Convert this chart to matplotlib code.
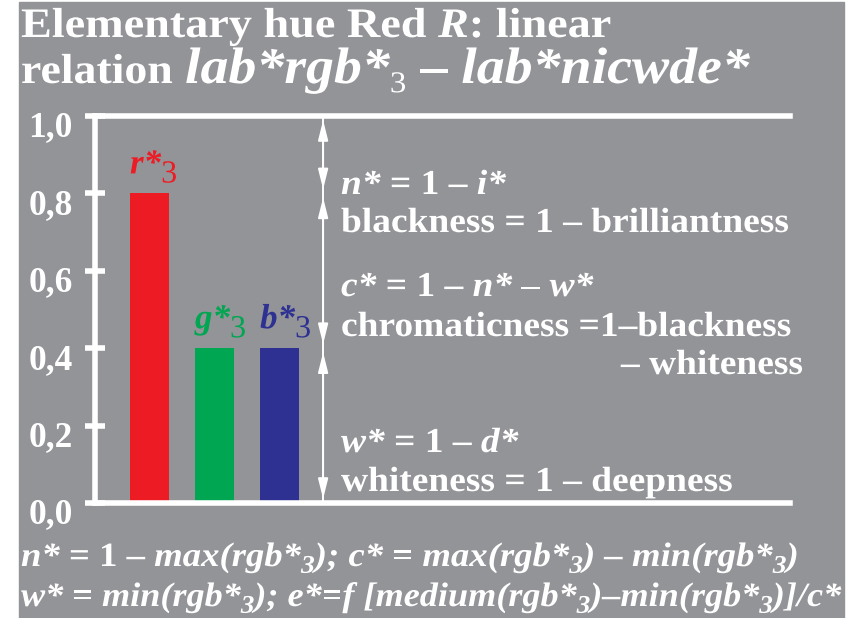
import matplotlib
matplotlib.use("Agg")
import matplotlib.pyplot as plt
from matplotlib.font_manager import FontProperties, findfont, get_font
from matplotlib.ft2font import LoadFlags
from matplotlib.textpath import TextPath
from matplotlib.patches import PathPatch, Rectangle
from matplotlib.transforms import Affine2D, ScaledTranslation

W, H = 863, 618
GREY = "#939498"

# bar data: rgb*3 of elementary hue red
names = ["r*", "g*", "b*"]
values = [0.8, 0.4, 0.4]
colors = ["#ed1c24", "#00a651", "#2e3192"]
ticks = [0.0, 0.2, 0.4, 0.6, 0.8, 1.0]
tick_labels = ["0,0", "0,2", "0,4", "0,6", "0,8", "1,0"]
# n*, c*, w* ranges on the double arrow
bounds = [1.0, 0.8, 0.4, 0.0]

SERIF = ["Liberation Serif", "TeX Gyre Termes", "Nimbus Roman", "Times New Roman",
         "STIXGeneral", "DejaVu Serif"]
FONTS = {
    "b": FontProperties(family=SERIF, weight="bold"),
    "bi": FontProperties(family=SERIF, weight="bold", style="italic"),
    "r": FontProperties(family=SERIF),
    "ri": FontProperties(family=SERIF, style="italic"),
}


def advance(s, prop, size):
    font = get_font(findfont(prop))
    font.set_size(size, 72)
    return sum(font.load_char(ord(c), flags=LoadFlags.NO_HINTING).linearHoriAdvance
               for c in s) / 65536


fig = plt.figure(figsize=(W / 100, H / 100), dpi=100)
fig.patch.set_facecolor("white")
px = Affine2D().scale(1 / 100) + fig.dpi_scale_trans  # pixels, origin bottom left


def rich(x, y, parts, size, color="white", sx=1.0, ha="left"):
    # parts: (text, style[, size factor[, baseline shift in em]])
    runs = []
    cx = 0.0
    for p in parts:
        txt, style = p[0], p[1]
        k = p[2] if len(p) > 2 else 1.0
        dy = p[3] if len(p) > 3 else 0.0
        s = size * k
        runs.append((txt, style, s, cx, dy * size))
        cx += advance(txt, FONTS[style], s)
    x0 = x - cx * sx if ha == "right" else x
    for txt, style, s, ox, oy in runs:
        path = TextPath((ox, oy), txt, size=s, prop=FONTS[style])
        tr = Affine2D().scale(sx, 1).translate(x0, y) + px
        fig.add_artist(PathPatch(path, transform=tr, fc=color, lw=0, zorder=5))


fig.add_artist(Rectangle((19, 0), 825, H - 2, transform=px, color=GREY, zorder=-10))

ax = fig.add_axes([95 / W, (H - 503) / H, (790 - 95) / W, (503 - 116) / H])
ax.set_facecolor("none")
xs = list(range(len(values)))
ax.bar(xs, values, width=0.6, color=colors, zorder=2)
ax.set_xlim(-0.838, 9.85)
ax.set_ylim(0, 1)
for side in ["left", "top", "bottom"]:
    ax.spines[side].set_color("white")
    ax.spines[side].set_linewidth(4)
ax.spines["right"].set_visible(False)
ax.set_xticks([])
ax.set_yticks(ticks, labels=tick_labels)
ax.tick_params(axis="y", direction="inout", length=14, width=4, colors="white", pad=9)
shift = ScaledTranslation(0, -8 / 100, fig.dpi_scale_trans)
for lbl in ax.get_yticklabels():
    lbl.set_fontproperties(FONTS["b"])
    lbl.set_fontsize(25.5)
    lbl.set_transform(lbl.get_transform() + shift)

# double arrow splitting the unit range into n*, c*, w*
xa = 2.67
ax.plot([xa, xa], [0, 1], color="white", lw=1.4, zorder=3)
for hi, lo in zip(bounds[:-1], bounds[1:]):
    ax.annotate("", xy=(xa, lo), xytext=(xa, hi),
                arrowprops=dict(arrowstyle="<|-|>,head_length=1.2,head_width=0.3",
                                color="white", lw=1.4, mutation_scale=10,
                                shrinkA=3, shrinkB=3))

# bar labels
fig.canvas.draw()
for i, (nm, v, c) in enumerate(zip(names, values, colors)):
    bx, by = ax.transData.transform((i - 0.3, v))
    rich(bx, by + 20, [(nm, "bi"), ("3", "r", 0.92, -0.26)], 35, color=c)

# title
rich(21, H - 37, [("Elementary hue Red ", "b"), ("R", "bi"), (": linear", "b")], 42, sx=1.1)
rich(21, H - 83, [("relation ", "b"), ("lab*rgb*", "bi", 1.22), ("3", "r", 0.72, -0.22),
                  (" \u2013 ", "b", 1.2), ("lab*nicwde*", "bi", 1.22)], 42, sx=1.09)

# right hand notes
S, SX = 35, 1.07
rich(341, H - 194, [("n*", "bi"), (" = 1 \u2013 ", "b"), ("i*", "bi")], S, sx=SX)
rich(341, H - 232, [("blackness = 1 \u2013 brilliantness", "b")], S, sx=SX)
rich(341, H - 296, [("c*", "bi"), (" = 1 \u2013 ", "b"), ("n*", "bi"),
                    (" \u2013 ", "b"), ("w*", "bi")], S, sx=SX)
rich(341, H - 336, [("chromaticness =1\u2013blackness", "b")], S, sx=SX)
rich(803, H - 374, [("\u2013 whiteness", "b")], S, sx=SX, ha="right")
rich(341, H - 452, [("w*", "bi"), (" = 1 \u2013 ", "b"), ("d*", "bi")], S, sx=SX)
rich(341, H - 491, [("whiteness = 1 \u2013 deepness", "b")], S, sx=SX)

# formulas below the chart
sub = ("3", "bi", 0.75, -0.2)
rich(21, H - 566, [("n*", "bi"), (" = 1 \u2013 ", "b"), ("max(rgb*", "bi"), sub,
                   ("); ", "bi"), ("c*", "bi"), (" = ", "b"), ("max(rgb*", "bi"),
                   sub, (") \u2013 ", "bi"), ("min(rgb*", "bi"), sub,
                   (")", "bi")], 34, sx=1.08)
rich(21, H - 606, [("w*", "bi"), (" = ", "b"), ("min(rgb*", "bi"), sub,
                   ("); ", "bi"), ("e*", "bi"), ("=", "b"), ("f [medium(rgb*", "bi"),
                   sub, (")\u2013min(rgb*", "bi"), sub,
                   (")]/c*", "bi")], 34, sx=1.065)

fig.savefig("out.png", dpi=100)
